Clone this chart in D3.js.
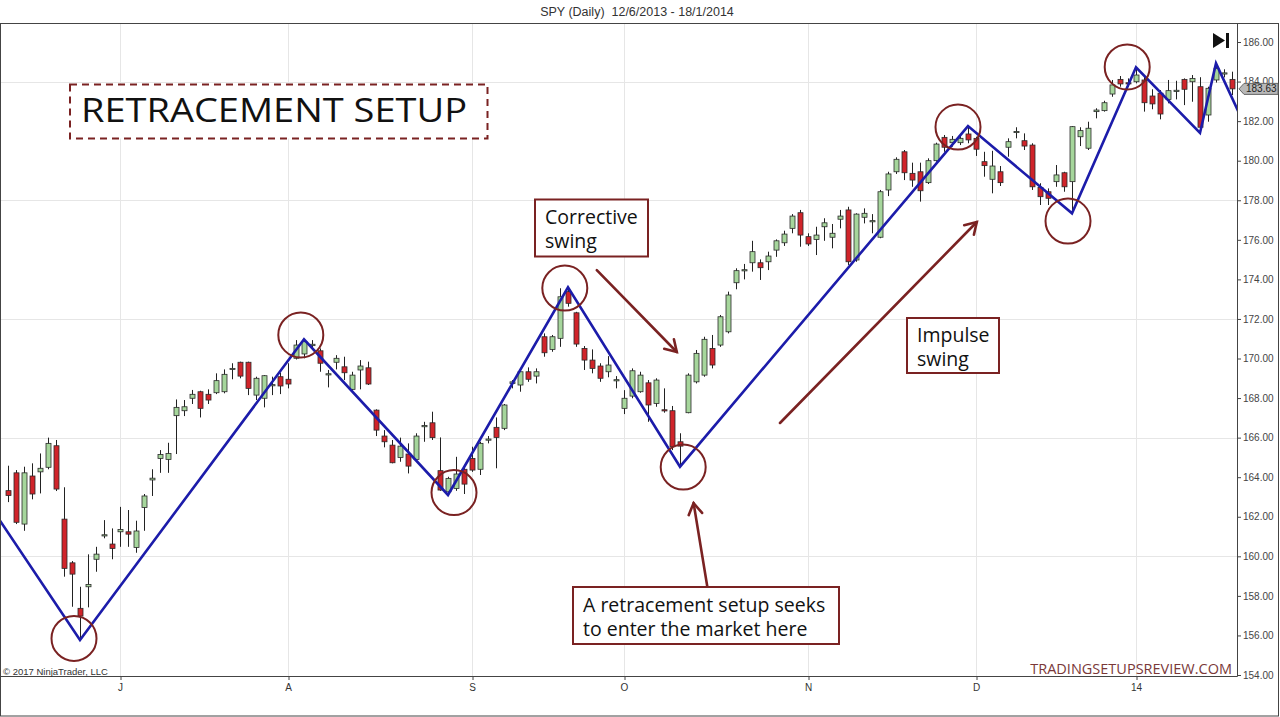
<!DOCTYPE html>
<html><head><meta charset="utf-8">
<script src="https://cdn.jsdelivr.net/npm/d3@7"></script>
<style>body{margin:0;background:#fff}svg{display:block}</style>
</head><body><svg id="chart" width="1280" height="717"></svg>
<script>
// SPY daily bars, mid-June 2013 to mid-January 2014
const opens=[163.32,164.22,161.63,164.06,164.27,164.50,165.59,161.88,159.67,157.37,158.46,159.85,161.05,160.62,161.24,161.24,160.45,162.47,163.86,164.95,164.90,167.11,167.36,167.99,168.32,168.19,168.27,168.32,169.45,169.81,169.81,168.15,167.99,168.64,169.08,168.95,170.01,170.23,170.65,170.39,169.19,169.81,169.58,168.44,169.42,169.53,167.39,166.08,165.62,165.00,165.17,164.90,166.57,166.75,164.33,163.26,163.43,164.40,164.95,164.40,165.89,166.52,166.47,168.74,168.66,169.33,169.11,171.10,170.46,171.02,173.38,172.31,170.51,169.92,169.62,169.33,168.89,167.48,168.10,168.32,168.77,167.73,167.41,167.36,165.79,167.26,168.82,169.16,170.51,170.68,171.35,173.83,174.45,174.84,174.84,174.89,175.48,175.85,176.58,177.37,176.16,176.02,176.66,176.13,177.04,177.51,174.98,177.14,176.95,176.13,178.52,179.44,180.45,179.36,179.44,178.89,180.00,181.18,180.91,180.91,181.35,181.13,179.95,179.06,179.44,180.68,181.44,181.01,180.79,178.65,178.43,178.94,179.39,178.94,181.21,180.63,182.48,182.53,183.37,184.11,183.94,183.99,184.08,183.27,183.41,183.10,183.52,184.11,183.99,183.74,182.31,184.08,184.40,184.11];
const highs=[164.58,164.36,164.53,164.70,165.20,166.00,165.88,163.49,159.76,158.46,160.10,160.48,161.83,161.41,162.50,162.34,161.80,163.15,164.40,165.37,165.74,167.93,167.90,168.41,168.37,168.44,169.25,169.45,169.76,169.84,169.84,169.08,169.16,169.08,169.28,169.76,170.93,170.97,170.93,170.51,169.42,170.17,170.09,169.33,169.92,169.84,167.43,166.38,165.88,166.00,165.71,166.22,166.80,167.31,166.01,164.02,165.03,164.53,165.54,165.79,166.08,167.02,167.70,168.91,169.45,169.55,169.50,171.27,171.19,173.55,173.55,172.36,170.63,170.46,169.76,170.12,169.11,168.40,169.50,169.33,168.91,169.00,168.49,167.60,166.22,169.25,170.43,171.10,171.19,172.20,173.38,174.56,174.78,175.95,175.01,175.40,176.02,176.46,177.30,177.51,176.33,176.66,177.09,176.80,177.51,177.67,177.34,177.59,177.30,178.52,179.44,180.17,180.54,179.90,179.90,180.12,180.91,181.30,181.25,181.30,181.75,181.21,180.45,180.50,179.73,181.13,181.69,181.38,180.88,178.86,178.60,179.78,179.44,181.75,181.69,181.97,182.65,183.03,184.08,184.28,184.16,184.70,184.25,183.61,183.57,184.08,184.04,184.16,184.33,184.22,183.74,184.92,184.62,184.50];
const lows=[162.74,161.63,161.29,162.88,163.18,164.40,163.30,158.97,157.45,155.77,157.42,159.22,160.91,159.85,160.48,160.48,160.18,161.29,163.05,164.22,164.22,165.17,167.09,167.70,167.02,167.70,168.20,168.24,168.95,169.00,168.15,167.90,167.53,168.15,168.20,168.49,169.95,170.01,170.44,169.33,168.54,169.45,168.91,168.40,168.44,168.66,166.08,165.51,164.70,164.78,164.19,164.87,165.79,165.88,163.31,163.10,163.31,163.15,164.27,164.11,165.71,164.45,166.38,168.49,168.32,168.82,168.74,170.09,170.34,170.59,172.62,170.59,169.42,169.25,168.82,169.05,168.49,167.19,167.99,168.27,166.80,167.56,167.26,165.37,164.53,167.23,168.74,169.08,169.50,170.59,171.27,173.50,174.00,174.39,173.97,174.47,175.14,175.69,176.33,175.65,175.69,175.23,175.95,175.57,176.58,174.73,174.89,176.83,176.33,176.08,178.21,179.33,179.02,178.68,177.93,178.82,179.95,180.45,180.71,180.79,180.88,180.24,179.19,178.35,178.72,180.20,181.13,180.54,178.52,177.76,177.76,178.68,178.43,177.34,180.74,180.54,182.14,182.48,183.23,183.74,183.74,183.91,182.48,182.60,182.09,182.90,183.10,182.81,182.98,181.40,181.97,183.95,184.21,183.32];
const closes=[163.07,161.72,164.22,163.15,164.45,165.71,163.40,159.39,159.10,156.98,158.58,160.11,161.09,160.40,161.36,161.12,161.28,163.05,163.95,165.15,165.20,167.53,167.56,168.19,167.48,167.90,168.88,169.20,169.50,169.11,168.49,169.00,169.13,168.68,168.61,168.71,170.68,170.85,170.72,169.76,169.23,170.01,169.28,169.16,169.62,168.71,166.38,165.79,164.73,165.57,164.56,166.08,166.61,166.00,163.35,163.94,164.16,163.65,164.36,165.71,165.93,166.01,167.65,168.82,169.33,168.95,169.33,170.29,171.10,173.12,172.79,170.73,169.92,169.50,169.00,169.67,168.93,167.99,169.38,169.16,167.65,168.91,167.37,165.54,165.57,169.16,170.26,170.97,169.67,172.11,173.21,174.44,174.49,175.40,174.59,175.18,175.95,176.29,177.20,176.24,175.79,176.24,176.86,176.33,177.20,174.89,177.30,177.34,176.97,178.43,179.33,180.07,179.39,179.02,178.48,180.00,180.84,180.68,181.08,181.13,181.05,180.58,179.75,179.73,178.89,180.96,181.48,180.74,178.68,178.18,178.10,179.28,178.68,181.72,181.52,181.64,182.56,182.93,183.83,183.88,183.90,184.33,182.93,182.87,182.36,183.54,183.56,183.61,184.16,181.69,183.66,184.67,184.44,183.63];

// month boundaries on the bar index axis
const monthIdx=[14,35,58,77,100,121,141];
const monthLabels=["J","A","S","O","N","D","14"];
const priceTicks=[154,156,158,160,162,164,166,168,170,172,174,176,178,180,182,184,186];
const gridPrices=[160,166,172,178,184];

// swing line vertices (bar index, price)
const swingIdx=[-1,9,37,55,70,84,120,133,141,149,151,154];
const swingPrice=[161.8,155.77,170.97,163.10,173.6,164.53,181.75,177.34,184.72,181.4,184.92,182.3];

// highlighted swing points
const circleIdx=[8.25,36.6,55.75,69.6,84.4,118.75,132.5,139.9];
const circlePrice=[155.85,171.19,163.22,173.56,164.51,181.7,176.95,184.74];

// annotation arrows: start and tip in (bar index, price)
const arrowFromIdx=[73.6,96.5,87.4];
const arrowFromPrice=[174.47,166.74,158.5];
const arrowToIdx=[83.6,121.1,85.7];
const arrowToPrice=[170.33,176.9,162.69];

const lastPrice=183.63;

const W=1280,H=717;
const plot={left:0,top:23,right:1237,bottom:676};
const svg=d3.select("#chart");

const x=d3.scaleLinear().domain([-1,153.625]).range([plot.left,plot.right]);
const y=d3.scaleLinear().domain([154,186]).range([675,42]);

const axisFont="'Liberation Sans', Arial, sans-serif";
const noteFont="'Open Sans', sans-serif";
const maroon="#7a2222";

svg.append("rect").attr("width",W).attr("height",H).attr("fill","#fff");

svg.append("defs").append("clipPath").attr("id","plotClip")
  .append("rect").attr("x",plot.left).attr("y",plot.top)
  .attr("width",plot.right-plot.left).attr("height",plot.bottom-plot.top);

// grid
const grid=svg.append("g");
grid.selectAll("line.h").data(gridPrices).join("line")
  .attr("x1",plot.left).attr("x2",plot.right)
  .attr("y1",d=>Math.round(y(d))+0.5).attr("y2",d=>Math.round(y(d))+0.5)
  .attr("stroke","#e6e6e6");
grid.selectAll("line.v").data(monthIdx).join("line")
  .attr("y1",plot.top).attr("y2",plot.bottom)
  .attr("x1",d=>Math.round(x(d))+0.5).attr("x2",d=>Math.round(x(d))+0.5)
  .attr("stroke","#e6e6e6");

// candles
const bars=opens.map((o,i)=>({i,o,h:highs[i],l:lows[i],c:closes[i]}));
const cg=svg.append("g").attr("clip-path","url(#plotClip)");
const candle=cg.selectAll("g").data(bars).join("g");
candle.append("line")
  .attr("x1",d=>Math.round(x(d.i))+0.5).attr("x2",d=>Math.round(x(d.i))+0.5)
  .attr("y1",d=>y(d.h)).attr("y2",d=>y(d.l))
  .attr("stroke","#222").attr("stroke-width",1);
candle.append("rect")
  .attr("x",d=>Math.round(x(d.i))-2)
  .attr("width",5)
  .attr("y",d=>y(Math.max(d.o,d.c)))
  .attr("height",d=>Math.max(1.2,Math.abs(y(d.o)-y(d.c))))
  .attr("fill",d=>d.c>=d.o?"#a6d69c":"#d0242a")
  .attr("stroke","#2a2a2a").attr("stroke-width",0.8);

// swing zigzag
const swings=swingIdx.map((d,k)=>[d,swingPrice[k]]);
cg.append("path")
  .attr("d",d3.line().x(d=>x(d[0])).y(d=>y(d[1]))(swings))
  .attr("fill","none").attr("stroke","#1c1caa").attr("stroke-width",2.6)
  .attr("stroke-linejoin","miter");

// circles around swing points
svg.append("g").selectAll("circle").data(circleIdx).join("circle")
  .attr("cx",d=>x(d)).attr("cy",(d,k)=>y(circlePrice[k])).attr("r",22.5)
  .attr("fill","none").attr("stroke",maroon).attr("stroke-width",2);

// arrows with open chevron heads
const ag=svg.append("g").attr("stroke",maroon).attr("stroke-width",2.6)
  .attr("fill","none").attr("stroke-linecap","round");
arrowFromIdx.forEach((fi,k)=>{
  const x1=x(fi),y1=y(arrowFromPrice[k]),x2=x(arrowToIdx[k]),y2=y(arrowToPrice[k]);
  const a=Math.atan2(y2-y1,x2-x1),L=13,sp=0.55;
  ag.append("line").attr("x1",x1).attr("y1",y1).attr("x2",x2).attr("y2",y2);
  ag.append("path").attr("d",
    `M${x2-L*Math.cos(a-sp)},${y2-L*Math.sin(a-sp)}L${x2},${y2}L${x2-L*Math.cos(a+sp)},${y2-L*Math.sin(a+sp)}`);
});

// text boxes; multi-line notes are one text element with tspans
function noteBox(x0,y0,w,h,lines,size,firstBase,lineGap,opts={}){
  const g=svg.append("g");
  g.append("rect").attr("x",x0).attr("y",y0).attr("width",w).attr("height",h)
    .attr("fill","#fff").attr("stroke",maroon).attr("stroke-width",2)
    .attr("stroke-dasharray",opts.dashed?"7,5":null);
  const tx=g.append("text").attr("font-family",noteFont).attr("font-size",size).attr("fill","#111");
  lines.forEach((t,k)=>{
    const ts=tx.append("tspan").attr("x",x0+(opts.pad||10)).attr("y",y0+firstBase+k*lineGap).text(t);
    if(opts.fit) ts.attr("textLength",opts.fit).attr("lengthAdjust","spacingAndGlyphs");
  });
  return g;
}
noteBox(70,84.5,417.5,54,["RETRACEMENT SETUP"],33.5,37.5,0,{dashed:true,pad:11,fit:386});
noteBox(535,199.5,113,57,["Corrective","swing"],19.5,24,24);
noteBox(907,318,92,55,["Impulse","swing"],19.5,23.5,24);
noteBox(573,587,266,57,["A retracement setup seeks","to enter the market here"],19.5,24.5,24);

// axes
const ya=svg.append("g").attr("transform",`translate(${plot.right},0)`)
  .call(d3.axisRight(y).tickValues(priceTicks).tickFormat(d3.format(".2f")).tickSize(4).tickPadding(2));
ya.select(".domain").remove();
ya.selectAll("line").attr("stroke","#444");
ya.selectAll("text").attr("font-family",axisFont).attr("font-size",10).attr("fill","#444");

const xa=svg.append("g").attr("transform",`translate(0,${plot.bottom})`)
  .call(d3.axisBottom(x).tickValues(monthIdx).tickFormat((d,k)=>monthLabels[k]).tickSize(4).tickPadding(4));
xa.select(".domain").remove();
xa.selectAll("line").attr("stroke","#444").attr("transform","translate(0.5,0)");
xa.selectAll("text").attr("font-family",axisFont).attr("font-size",10).attr("fill","#333");

// plot frame and outer border
svg.append("path")
  .attr("d",`M${plot.left+0.5},${plot.top+0.5}H${plot.right+0.5}V${plot.bottom+0.5}H${plot.left+0.5}Z`)
  .attr("fill","none").attr("stroke","#444");
svg.append("rect").attr("x",0.5).attr("y",plot.top+0.5).attr("width",W-2).attr("height",H-plot.top-1.5)
  .attr("fill","none").attr("stroke","#444");

// last price marker
const lp=y(lastPrice);
svg.append("path")
  .attr("d",`M1239,${lp}L1244,${lp-5.5}H1278V${lp+5.5}H1244Z`)
  .attr("fill","#b8b8b8").attr("stroke","#666");
svg.append("text").attr("x",1246).attr("y",lp+3.6).attr("font-family",axisFont)
  .attr("font-size",10).attr("fill","#222").text(d3.format(".2f")(lastPrice));

// scroll-to-end glyph
svg.append("path").attr("d","M1213,33L1225,40.5L1213,48Z").attr("fill","#111");
svg.append("rect").attr("x",1226).attr("y",33).attr("width",3).attr("height",15).attr("fill","#111");

// title and credits
svg.append("text").attr("x",637).attr("y",16).attr("text-anchor","middle")
  .attr("font-family",axisFont).attr("font-size",12.5).attr("fill","#333")
  .attr("xml:space","preserve").text("SPY (Daily)  12/6/2013 - 18/1/2014");
svg.append("text").attr("x",3).attr("y",675).attr("font-family",axisFont)
  .attr("font-size",9.5).attr("fill","#333").text("© 2017 NinjaTrader, LLC");
svg.append("text").attr("x",1232).attr("y",674).attr("text-anchor","end")
  .attr("font-family",noteFont).attr("font-size",14.5).attr("fill","#7a3838")
  .text("TRADINGSETUPSREVIEW.COM");
</script></body></html>
